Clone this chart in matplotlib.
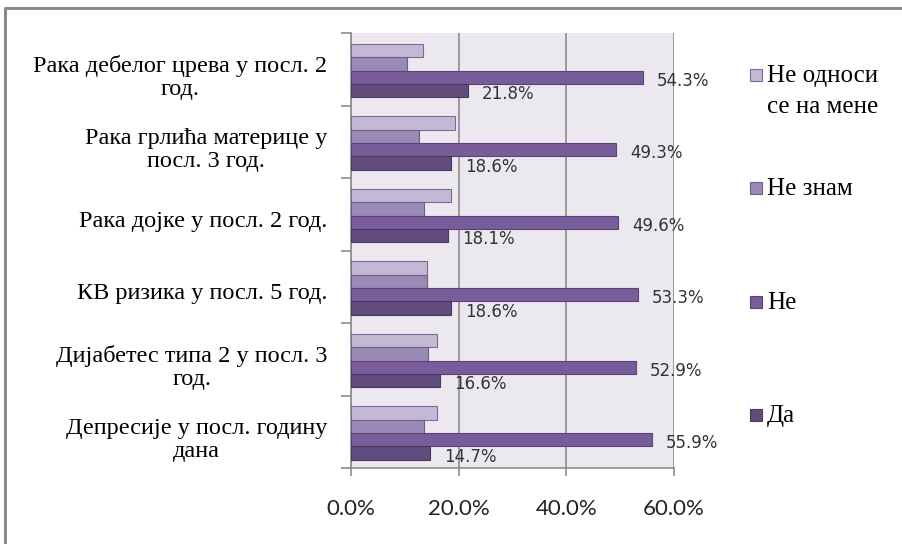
import matplotlib
matplotlib.use('Agg')
import matplotlib.pyplot as plt
from matplotlib.lines import Line2D
from matplotlib.patches import Rectangle
import numpy as np

# data (percent)
categories = [
    'Рака дебелог црева у посл. 2\nгод.',
    'Рака грлића материце у\nпосл. 3 год.',
    'Рака дојке у посл. 2 год.',
    'КВ ризика у посл. 5 год.',
    'Дијабетес типа 2 у посл. 3\nгод.',
    'Депресије у посл. годину\nдана',
]
series_names = ['Не односи\nсе на мене', 'Не знам', 'Не', 'Да']
ne_odnosi = [13.3, 19.4, 18.5, 14.1, 15.9, 15.9]
ne_znam = [10.4, 12.7, 13.6, 14.1, 14.3, 13.5]
ne = [54.3, 49.3, 49.6, 53.3, 52.9, 55.9]
da = [21.8, 18.6, 18.1, 18.6, 16.6, 14.7]
xticks = [0, 20, 40, 60]

series = [ne_odnosi, ne_znam, ne, da]
labelled = [False, False, True, True]
colors = ['#c4b9d4', '#9c8ab6', '#795d9a', '#614d7d']
edges = ['#7d6a99', '#6f5b8c', '#5a437a', '#4a3862']

W, H = 902, 544
fig = plt.figure(figsize=(W / 100, H / 100), dpi=100)
fig.patch.set_facecolor('white')

# plot area in pixels: x 351..674, y 33..468
ax = fig.add_axes([351 / W, 1 - 468 / H, 323 / W, 435 / H])
ax.set_facecolor('#ebe8ef')

bar_h = 0.185
top_gap = 0.148
y_base = np.arange(len(categories))

for k, (vals, col, ec, lab) in enumerate(zip(series, colors, edges, labelled)):
    ys = y_base - 0.5 + top_gap + (k + 0.5) * bar_h
    ax.barh(ys, vals, height=bar_h, color=col, edgecolor=ec, linewidth=0.8, zorder=3)
    if lab:
        for y, v in zip(ys, vals):
            ax.annotate(f'{v:.1f}%', (v, y), xytext=(10, -2.5), textcoords='offset points',
                        ha='left', va='center', fontsize=12, family='DejaVu Sans',
                        color='#333333', zorder=4)

ax.set_xlim(0, 60)
ax.set_ylim(len(categories) - 0.5, -0.5)

# x axis
ax.set_xticks(xticks)
ax.set_xticklabels([f'{t:.1f}%' for t in xticks], family='Lato', fontsize=16, color='#222222')
ax.tick_params(axis='x', direction='out', length=6, width=1.2, color='#8c8c8c', pad=16)
ax.xaxis.grid(True, color='#9a9a9a', linewidth=1.4, zorder=0)
ax.set_axisbelow(True)

# y axis: ticks between categories, labels centred on categories
ax.set_yticks(np.arange(-0.5, len(categories) + 0.5, 1.0))
ax.set_yticklabels([])
ax.set_yticks(y_base + 0.06, minor=True)
ax.set_yticklabels(categories, minor=True, family='Liberation Serif', fontsize=17.5)
ax.tick_params(axis='y', which='major', direction='out', length=7, width=1.2, color='#8c8c8c')
ax.tick_params(axis='y', which='minor', length=0, pad=17)
for t in ax.get_yticklabels(minor=True):
    t.set_multialignment('center')
    t.set_linespacing(1.15)

for side in ['top', 'right']:
    ax.spines[side].set_visible(False)
for side in ['left', 'bottom']:
    ax.spines[side].set_color('#8c8c8c')
    ax.spines[side].set_linewidth(1.2)

# legend drawn by hand
leg_y = [75, 188, 302, 415]
for name, col, ec, yp in zip(series_names, colors, edges, leg_y):
    fig.patches.append(Rectangle((750 / W, 1 - (yp + 6) / H), 12 / W, 12 / H,
                                 facecolor=col, edgecolor=ec, linewidth=0.8,
                                 transform=fig.transFigure, figure=fig))
    fig.text(767 / W, 1 - (yp - 10) / H, name, ha='left', va='top',
             family='Liberation Serif', fontsize=18, linespacing=1.55)

# outer chart frame (cropped)
fig.add_artist(Line2D([5 / W, 5 / W, 1.0], [0.0, 1 - 8 / H, 1 - 8 / H],
                      color='#8a8a8a', linewidth=2.2, transform=fig.transFigure))

fig.savefig('out.png', dpi=100)
